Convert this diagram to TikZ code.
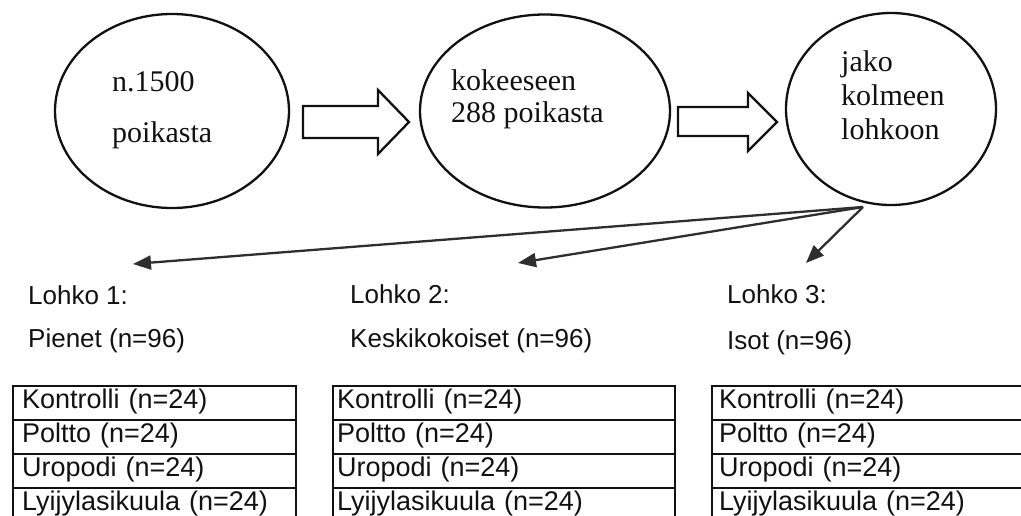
\documentclass[tikz,border=0pt]{standalone}
\usepackage{fontspec}
\setmainfont{Liberation Serif}
\newfontfamily\arialf{Liberation Sans}
\usetikzlibrary{shapes.geometric,arrows.meta}
\definecolor{ink}{HTML}{111111}
\definecolor{arrowink}{HTML}{2E2E2E}
\tikzset{
  oval/.style={ellipse, draw=ink, line width=2.3pt, inner sep=0pt},
  serif/.style={anchor=base west, inner sep=0pt, font=\fontsize{30}{36}\selectfont, text=ink},
  sanslabel/.style={anchor=base west, inner sep=0pt, font=\arialf\fontsize{26}{31}\selectfont, text=ink},
  cell/.style={rectangle, draw=ink, line width=2.2pt, anchor=north west, minimum height=34pt,
    inner ysep=0pt, text height=18pt, text depth=8pt, align=left,
    font=\arialf\fontsize{27}{32}\selectfont, text=ink},
  blockarrow/.style={draw=ink, line width=2.3pt, line join=miter, fill=white},
  split/.style={draw=arrowink, line width=2.3pt, -{Triangle[length=18pt,width=14pt]}}
}
\begin{document}
\begin{tikzpicture}[x=1pt,y=-1pt]
\useasboundingbox (0,0) rectangle (1021,516);
\clip (0,0) rectangle (1021,516);

% ovals
\node[oval, minimum width=234pt, minimum height=194pt] (e1) at (172,111) {};
\node[oval, minimum width=250pt, minimum height=193pt] (e2) at (545,111) {};
\node[oval, minimum width=210pt, minimum height=192pt] (e3) at (891,109) {};

\node[serif] (t1a) at (112,92) {n.1500};
\node[serif] (t1b) at (112,143) {poikasta};
\node[serif] (t2a) at (451,91) {kokeeseen};
\node[serif] (t2b) at (451,123) {288 poikasta};
\node[serif] (t3a) at (841,72) {jako};
\node[serif] (t3b) at (841,106) {kolmeen};
\node[serif] (t3c) at (841,140) {lohkoon};

% block arrows
\draw[blockarrow] (303,106) -- (378,106) -- (378,90) -- (409,122) -- (378,154) -- (378,138) -- (303,138) -- cycle;
\draw[blockarrow] (678,107) -- (748,107) -- (748,93) -- (777,122) -- (748,151) -- (748,136) -- (678,136) -- cycle;

% split arrows
\coordinate (src) at (863,207);
\coordinate (tip1) at (133,264);
\coordinate (tip2) at (518,263);
\coordinate (tip3) at (806,263);
\draw[split] (src) -- (tip1);
\draw[split] (src) -- (tip2);
\draw[split] (src) -- (tip3);

% block labels
\node[sanslabel] (l1) at (28,304) {Lohko 1:};
\node[sanslabel] (p1) at (28,347) {Pienet (n=96)};
\node[sanslabel] (l2) at (350,303) {Lohko 2:};
\node[sanslabel] (p2) at (350,347) {Keskikokoiset (n=96)};
\node[sanslabel] (l3) at (727,303) {Lohko 3:};
\node[sanslabel] (p3) at (727,349) {Isot (n=96)};

% tables
\foreach \tx/\tw/\xs/\tn in {12/283/9/a, 332/342/4/b, 711/334/7/c}{
  \node[cell, inner xsep=\xs pt, text width=\tw pt-2*\xs pt] (\tn1) at (\tx,385) {Kontrolli (n=24)};
  \node[cell, inner xsep=\xs pt, text width=\tw pt-2*\xs pt] (\tn2) at (\tx,419) {Poltto (n=24)};
  \node[cell, inner xsep=\xs pt, text width=\tw pt-2*\xs pt] (\tn3) at (\tx,453) {Uropodi (n=24)};
  \node[cell, inner xsep=\xs pt, text width=\tw pt-2*\xs pt, minimum height=50pt, text height=18pt, text depth=24pt] (\tn4) at (\tx,487) {Lyijylasikuula (n=24)};
}
\end{tikzpicture}
\end{document}
